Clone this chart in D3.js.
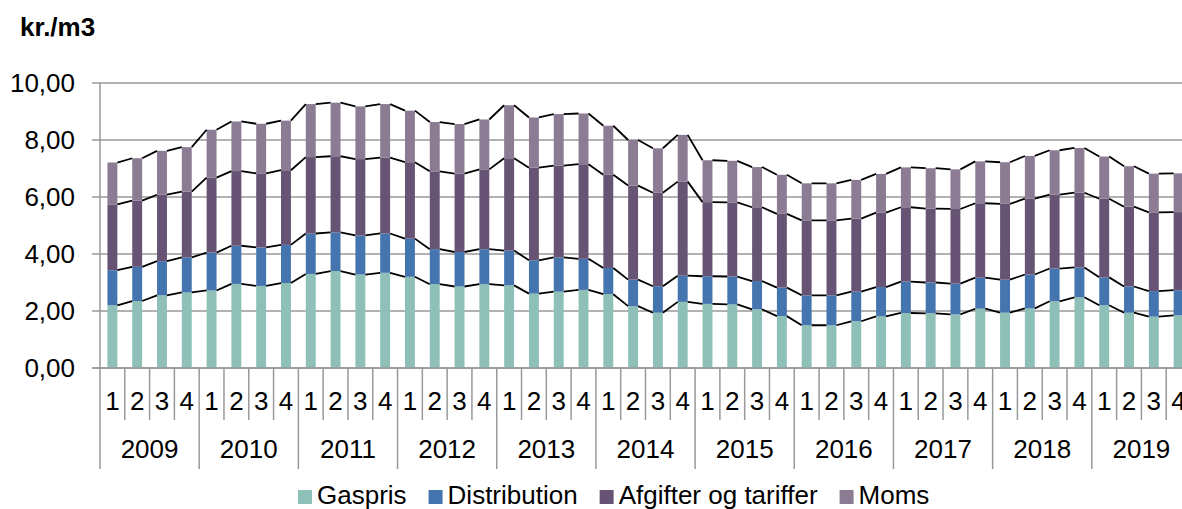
<!DOCTYPE html>
<html>
<head>
<meta charset="utf-8">
<script src="https://cdn.jsdelivr.net/npm/d3@7/dist/d3.min.js"></script>
<style>
  html, body { margin: 0; padding: 0; background: #fff; }
  svg { display: block; font-family: "Liberation Sans", Arial, sans-serif; }
</style>
</head>
<body>
<div id="root"></div>
<script>
// Data: kr./m3 per quarter, 2009-2019
const years = ["2009", "2010", "2011", "2012", "2013", "2014", "2015", "2016", "2017", "2018", "2019"];
const quarters = ["1", "2", "3", "4"];

const gaspris = [
  2.20, 2.35, 2.55, 2.65, 2.72, 2.95, 2.88, 2.98, 3.30, 3.40, 3.28,
  3.34, 3.20, 2.94, 2.86, 2.94, 2.90, 2.61, 2.68, 2.74, 2.59, 2.17,
  1.94, 2.32, 2.25, 2.23, 2.06, 1.82, 1.50, 1.50, 1.64, 1.81, 1.93,
  1.92, 1.88, 2.08, 1.94, 2.09, 2.34, 2.48, 2.20, 1.94, 1.80, 1.85
];
const distribution = [
  1.23, 1.20, 1.20, 1.23, 1.33, 1.34, 1.35, 1.34, 1.42, 1.36, 1.37,
  1.38, 1.34, 1.23, 1.21, 1.23, 1.22, 1.17, 1.20, 1.09, 0.92, 0.93,
  0.93, 0.92, 0.97, 0.98, 0.99, 1.00, 1.05, 1.05, 1.04, 1.03, 1.10,
  1.08, 1.08, 1.09, 1.16, 1.19, 1.15, 1.05, 0.98, 0.92, 0.90, 0.88
];
const afgifter = [
  2.31, 2.32, 2.33, 2.31, 2.63, 2.62, 2.60, 2.62, 2.68, 2.67, 2.68,
  2.66, 2.68, 2.73, 2.75, 2.80, 3.24, 3.25, 3.22, 3.32, 3.27, 3.30,
  3.28, 3.30, 2.60, 2.60, 2.59, 2.59, 2.63, 2.63, 2.56, 2.61, 2.61,
  2.59, 2.62, 2.61, 2.66, 2.66, 2.59, 2.62, 2.76, 2.80, 2.76, 2.74
];
const moms = [
  1.47, 1.49, 1.54, 1.56, 1.68, 1.74, 1.74, 1.74, 1.86, 1.88, 1.85,
  1.88, 1.81, 1.73, 1.74, 1.75, 1.86, 1.76, 1.81, 1.78, 1.72, 1.60,
  1.56, 1.64, 1.47, 1.46, 1.41, 1.37, 1.30, 1.30, 1.36, 1.36, 1.40,
  1.42, 1.39, 1.47, 1.46, 1.50, 1.56, 1.57, 1.48, 1.42, 1.36, 1.36
];
const seriesNames = ["Gaspris", "Distribution", "Afgifter og tariffer", "Moms"];
const seriesColors = ["#8fc0b7", "#4575ae", "#675474", "#8b7b93"];
const yTicks = [0, 2, 4, 6, 8, 10];

const width = 1182;
const height = 509;
const plotLeft = 100;
const plotRight = 1191;   // plot runs past the visible edge, as in the source
const plotTop = 83;
const plotBottom = 368;
const fontSize = 26;

// rows for the stack
const keys = years.flatMap(yr => quarters.map(q => yr + "-" + q));
const rows = keys.map((k, i) => ({
  key: k,
  Gaspris: gaspris[i],
  Distribution: distribution[i],
  "Afgifter og tariffer": afgifter[i],
  Moms: moms[i]
}));

const svg = d3.select("#root")
  .append("svg")
    .attr("width", width)
    .attr("height", height);

const x = d3.scaleBand()
  .domain(keys)
  .range([plotLeft, plotRight])
  .paddingInner(0.6)
  .paddingOuter(0.3);

const y = d3.scaleLinear()
  .domain([0, 10])
  .range([plotBottom, plotTop]);

const color = d3.scaleOrdinal().domain(seriesNames).range(seriesColors);

// gridlines + y ticks
svg.append("g")
  .selectAll("line")
  .data(yTicks)
  .join("line")
    .attr("x1", plotLeft - 8)
    .attr("x2", width)
    .attr("y1", d => y(d))
    .attr("y2", d => y(d))
    .attr("stroke", "#999")
    .attr("stroke-width", 1.5);

svg.append("g")
  .selectAll("text")
  .data(yTicks)
  .join("text")
    .attr("x", 75)
    .attr("y", d => y(d) + 9)
    .attr("text-anchor", "end")
    .attr("font-size", fontSize)
    .attr("fill", "#000")
    .text(d => d3.format(".2f")(d).replace(".", ","));

// y axis line
svg.append("line")
  .attr("x1", plotLeft).attr("x2", plotLeft)
  .attr("y1", plotTop).attr("y2", plotBottom)
  .attr("stroke", "#999")
  .attr("stroke-width", 1.5);

// title
svg.append("text")
  .attr("x", 20)
  .attr("y", 36)
  .attr("font-size", fontSize)
  .attr("font-weight", "bold")
  .text("kr./m3");

// stacked bars
const stack = d3.stack().keys(seriesNames);
const layers = stack(rows);

svg.append("g")
  .selectAll("g")
  .data(layers)
  .join("g")
    .attr("fill", d => color(d.key))
  .selectAll("rect")
  .data(d => d)
  .join("rect")
    .attr("x", d => x(d.data.key))
    .attr("width", x.bandwidth())
    .attr("y", d => y(d[1]))
    .attr("height", d => y(d[0]) - y(d[1]));

// series lines between bars
svg.append("g")
  .selectAll("path")
  .data(layers)
  .join("path")
    .attr("fill", "none")
    .attr("stroke", "#000")
    .attr("stroke-width", 1.8)
    .attr("d", layer => {
      let p = "";
      for (let i = 0; i < layer.length - 1; i++) {
        const a = layer[i], b = layer[i + 1];
        p += `M${x(a.data.key) + x.bandwidth()},${y(a[1])}L${x(b.data.key)},${y(b[1])}`;
      }
      return p;
    });

// x axis: line, quarter and year separators
const step = x.step();
svg.append("line")
  .attr("x1", plotLeft - 8).attr("x2", width)
  .attr("y1", plotBottom).attr("y2", plotBottom)
  .attr("stroke", "#999")
  .attr("stroke-width", 1.5);

svg.append("g")
  .selectAll("line")
  .data(d3.range(keys.length + 1))
  .join("line")
    .attr("x1", i => plotLeft + i * step)
    .attr("x2", i => plotLeft + i * step)
    .attr("y1", plotBottom)
    .attr("y2", i => (i % 4 === 0 ? 469 : 420))
    .attr("stroke", "#999")
    .attr("stroke-width", 1.5);

svg.append("g")
  .selectAll("text")
  .data(keys)
  .join("text")
    .attr("x", d => x(d) + x.bandwidth() / 2)
    .attr("y", 410)
    .attr("text-anchor", "middle")
    .attr("font-size", fontSize)
    .text(d => d.split("-")[1]);

svg.append("g")
  .selectAll("text")
  .data(years)
  .join("text")
    .attr("x", (d, i) => plotLeft + (i * 4 + 2) * step)
    .attr("y", 458)
    .attr("text-anchor", "middle")
    .attr("font-size", fontSize)
    .text(d => d);

// legend
const legend = svg.append("g");
let lx = 298;
seriesNames.forEach(name => {
  legend.append("rect")
    .attr("x", lx)
    .attr("y", 490)
    .attr("width", 14)
    .attr("height", 14)
    .attr("fill", color(name));
  const t = legend.append("text")
    .attr("x", lx + 19)
    .attr("y", 504)
    .attr("font-size", fontSize)
    .text(name);
  lx += 19 + t.node().getComputedTextLength() + 22;
});
</script>
</body>
</html>
